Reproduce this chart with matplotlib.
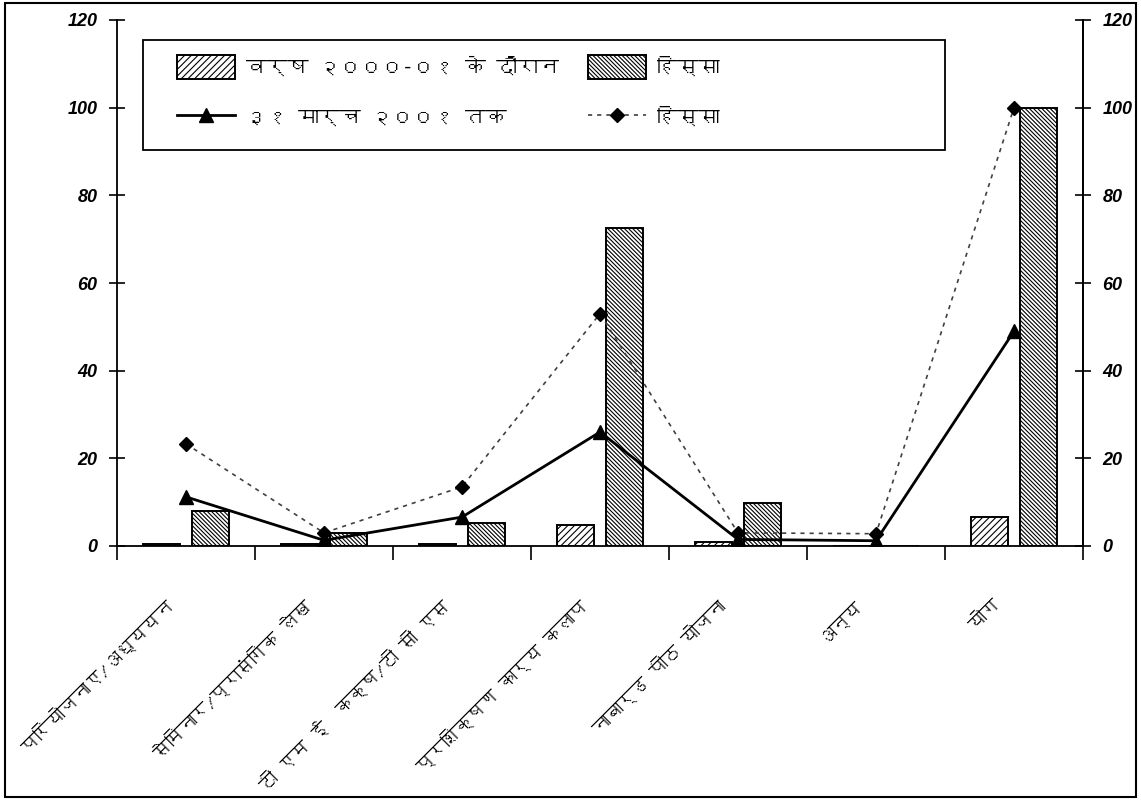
import numpy as np
import matplotlib
matplotlib.use("Agg")
import matplotlib.pyplot as plt
import matplotlib.font_manager as fm
from matplotlib.patches import Rectangle
from matplotlib.transforms import ScaledTranslation

# ---- data -------------------------------------------------------------
categories = [
    "परियोजनाए/अध्ययन",
    "सेमिनार/प्रासंगिक लेख",
    "टी एम ई  कक्ष/टी सी एस",
    "प्रशिक्षण कार्य कलाप",
    "नाबार्ड पीठ योजना",
    "अन्य",
    "योग",
]
during_year = [0.4, 0.4, 0.4, 4.8, 0.8, 0.0, 6.6]        # वर्ष २०००-०१ के दौरान
during_share = [8.0, 3.0, 5.3, 72.5, 9.8, 0.0, 100.0]    # हिस्सा
upto_march = [11.2, 1.3, 6.6, 26.0, 1.5, 1.2, 49.0]      # ३१ मार्च २००१ तक
upto_share = [23.3, 3.0, 13.5, 53.0, 3.0, 2.8, 100.0]    # हिस्सा
legend_labels = ["वर्ष २०००-०१ के दौरान", "हिस्सा", "३१ मार्च २००१ तक", "हिस्सा"]
y_ticks = [0, 20, 40, 60, 80, 100, 120]


# ---- pick an installed family that covers Devanagari -------------------
def devanagari_family():
    try:
        from fontTools.ttLib import TTFont
    except Exception:
        return None
    sample = "हिस्साक२"
    seen = set()
    for fe in fm.fontManager.ttflist:
        if fe.name in seen:
            continue
        seen.add(fe.name)
        try:
            tt = TTFont(fe.fname, fontNumber=0, lazy=True)
            cmap = tt.getBestCmap() or {}
        except Exception:
            continue
        if all(ord(c) in cmap for c in sample):
            return fe.name
    return None


deva = devanagari_family()
text_family = ([deva] if deva else []) + ["DejaVu Sans"]
num_family = "Liberation Sans"

# ---- figure -----------------------------------------------------------
W, H = 1141, 800
fig = plt.figure(figsize=(W / 100, H / 100), dpi=100)
fig.patch.set_facecolor("white")
X0, X1, Y0, Y1 = 117, 1083, 546, 20          # plot area in pixels
ax = fig.add_axes([X0 / W, 1 - Y0 / H, (X1 - X0) / W, (Y0 - Y1) / H])
ax2 = ax.twinx()


def ax_frac(px, py):
    return (px - X0) / (X1 - X0), (Y0 - py) / (Y0 - Y1)


x = np.arange(len(categories))
bw = 0.27
off = 0.175

plt.rcParams["hatch.linewidth"] = 0.8
b1 = ax.bar(x - off, during_year, bw, facecolor="white", edgecolor="black",
            linewidth=1.4, hatch="/////", zorder=2)
b2 = ax.bar(x + off, during_share, bw, facecolor="white", edgecolor="black",
            linewidth=1.4, hatch="\\\\\\\\\\\\\\\\", zorder=2)

l1, = ax2.plot(x, upto_march, color="black", lw=2.0, marker="^",
               markersize=10, zorder=4)
l2, = ax2.plot(x, upto_share, color="0.25", lw=1.2, ls=(0, (2.5, 3)),
               marker="D", markersize=7, markerfacecolor="black",
               markeredgecolor="black", zorder=4)

for a in (ax, ax2):
    a.set_ylim(0, 120)
    a.set_xlim(-0.5, len(categories) - 0.5)
    a.set_yticks(y_ticks)
    a.spines["top"].set_visible(False)
    for s in ("left", "right", "bottom"):
        a.spines[s].set_linewidth(1.3)
    a.tick_params(axis="y", direction="inout", length=12, width=1.2, pad=8)
    for lab in a.get_yticklabels():
        lab.set_fontfamily(num_family)
        lab.set_fontweight("bold")
        lab.set_fontstyle("italic")
        lab.set_fontsize(13)

ax2.spines["left"].set_visible(False)
ax2.spines["bottom"].set_visible(False)

# category labels at centres, tick marks at boundaries
ax.set_xticks(x)
ax.set_xticklabels(categories, rotation=45, ha="right", va="top",
                   rotation_mode="anchor", fontsize=13, fontweight="bold",
                   family=text_family)
ax.tick_params(axis="x", which="major", length=0, pad=0)
ax.set_xticks(np.arange(-0.5, len(categories), 1.0), minor=True)
ax.tick_params(axis="x", which="minor", direction="out", length=10, width=1.2)
shift = ScaledTranslation(-0.22, -0.50, fig.dpi_scale_trans)
for lab in ax.get_xticklabels():
    lab.set_transform(lab.get_transform() + shift)

# legend: two single-column blocks inside one drawn frame
leg_font = fm.FontProperties(family=text_family, style="italic", size=15)
leg_kw = dict(loc="upper left", frameon=False, borderpad=0, borderaxespad=0,
              handlelength=2.8, handleheight=1.4, handletextpad=0.5,
              labelspacing=1.25, prop=leg_font)
legA = ax.legend([b1, l1], [legend_labels[0], legend_labels[2]],
                 bbox_to_anchor=ax_frac(177, 55), **leg_kw)
ax.add_artist(legA)
legB = ax.legend([b2, l2], [legend_labels[1], legend_labels[3]],
                 bbox_to_anchor=ax_frac(588, 55), **leg_kw)
fx0, fy0 = ax_frac(143, 150)
fx1, fy1 = ax_frac(945, 40)
ax.add_patch(Rectangle((fx0, fy0), fx1 - fx0, fy1 - fy0, transform=ax.transAxes,
                       fill=True, facecolor="white", edgecolor="black",
                       linewidth=1.3, zorder=5, clip_on=False))
legA.set_zorder(6)
legB.set_zorder(6)

# outer frame
fig.add_artist(Rectangle((0.004, 0.004), 0.992, 0.992, transform=fig.transFigure,
                         fill=False, edgecolor="black", linewidth=1.5))

fig.savefig("out.png", dpi=100)
